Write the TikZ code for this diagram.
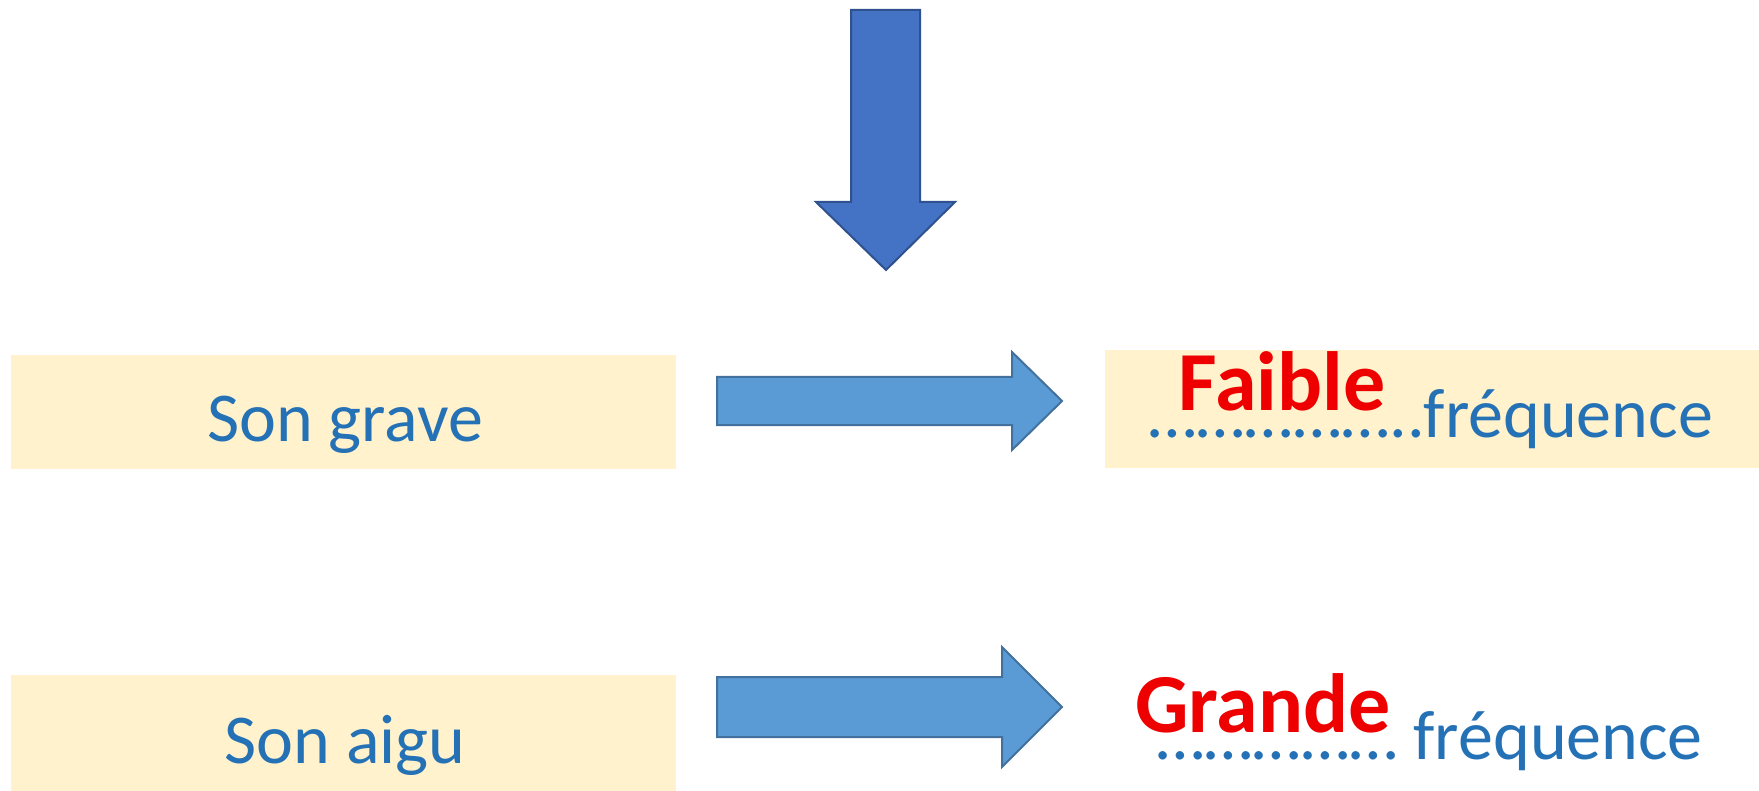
\documentclass[tikz,border=0pt]{standalone}
\usepackage{fontspec}
\setmainfont{Carlito}
\definecolor{beige}{HTML}{FFF2CC}
\definecolor{txtblue}{HTML}{2471B6}
\definecolor{hot}{HTML}{EE0000}
\definecolor{rfill}{HTML}{5B9BD5}
\definecolor{rline}{HTML}{41719C}
\definecolor{dfill}{HTML}{4472C4}
\definecolor{dline}{HTML}{2F528F}
\begin{document}
\begin{tikzpicture}[x=1pt,y=-1pt,
  panel/.style={fill=beige, draw=none, inner sep=0pt, anchor=north west},
  bluetxt/.style={text=txtblue, font=\fontsize{70}{84}\selectfont, inner sep=0pt},
  redtxt/.style={text=hot, font=\fontsize{84}{100}\selectfont\bfseries, inner sep=0pt},
  rarrow/.style={fill=rfill, draw=rline, line width=2pt, line join=miter},
  darrow/.style={fill=dfill, draw=dline, line width=2pt, line join=miter}]
\useasboundingbox (0,0) rectangle (1759,791);
% panels
\node[panel, minimum width=665pt, minimum height=114pt] (p1) at (11,355) {};
\node[panel, minimum width=654pt, minimum height=118pt] (p2) at (1105,350) {};
\node[panel, minimum width=665pt, minimum height=118pt] (p3) at (11,675) {};
% texts
\node[bluetxt, anchor=base] (t1) at (345,441) {Son grave};
\node[bluetxt, anchor=base] (t3) at (345,763) {Son aigu};
\node[redtxt, anchor=base] (r1) at (1282,410) {Faible};
\node[bluetxt, anchor=base west] (f1) at (1148,437) {……………..fréquence};
\node[redtxt, anchor=base] (r2) at (1263,732) {Grande};
\node[bluetxt, anchor=base west] (f2) at (1156,759) {…………… fréquence};
% down arrow
\draw[darrow] (851,10) -- (920,10) -- (920,202) -- (955,202) -- (886,270) -- (816,202) -- (851,202) -- cycle;
% right arrows
\draw[rarrow] (717,377) -- (1012,377) -- (1012,352) -- (1062,401) -- (1012,450) -- (1012,425) -- (717,425) -- cycle;
\draw[rarrow] (717,677) -- (1002,677) -- (1002,647) -- (1062,707) -- (1002,767) -- (1002,737) -- (717,737) -- cycle;
\end{tikzpicture}
\end{document}
